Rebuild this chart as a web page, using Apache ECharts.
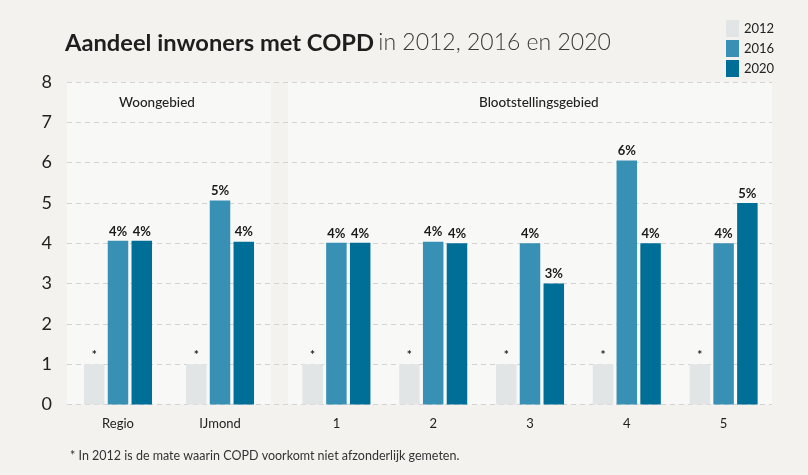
<!DOCTYPE html>
<html>
<head>
<meta charset="utf-8">
<script src="https://cdn.jsdelivr.net/npm/echarts@6/dist/echarts.min.js"></script>
<style>
html,body{margin:0;padding:0;background:#f3f2ef;}
#c{width:808px;height:475px;}
</style>
</head>
<body>
<div id="c"></div>
<script>
// Data
const years = ['2012', '2016', '2020'];
const woonCategories = ['Regio', 'IJmond'];
const blootCategories = ['1', '2', '3', '4', '5'];
const woon2012 = [1, 1];
const woon2016 = [4.06, 5.06];
const woon2020 = [4.06, 4.04];
const bloot2012 = [1, 1, 1, 1, 1];
const bloot2016 = [4.01, 4.04, 4.0, 6.05, 4.0];
const bloot2020 = [4.01, 4.0, 3.0, 4.0, 5.0];
const yTicks = [0, 1, 2, 3, 4, 5, 6, 7, 8];

const colors = ['#e1e5e6', '#3891b4', '#006f98'];
const FONT = 'Lato, "Open Sans", sans-serif';

const chart = echarts.init(document.getElementById('c'));

function labelFor(idx) {
  return {
    show: true,
    position: 'top',
    distance: 3,
    fontFamily: FONT,
    fontWeight: 'bold',
    fontSize: idx === 0 ? 12 : 13,
    color: '#1a1a1a',
    formatter: idx === 0 ? '*' : (p) => Math.round(p.value) + '%'
  };
}

function mkSeries(name, data, axisIdx, idx) {
  return {
    name: name,
    type: 'bar',
    xAxisIndex: axisIdx,
    yAxisIndex: axisIdx,
    data: data,
    barWidth: 20.5,
    barGap: '16%',
    itemStyle: { color: colors[idx] },
    label: labelFor(idx),
    z: 3
  };
}

const catAxisCommon = {
  type: 'category',
  axisLine: { show: false },
  axisTick: { show: false },
  axisLabel: { fontFamily: FONT, fontSize: 13, color: '#222', margin: 13 }
};
const hiddenY = { type: 'value', min: 0, max: 8, interval: 1, show: false };

chart.setOption({
  backgroundColor: '#f3f2ef',
  animation: false,
  textStyle: { fontFamily: FONT },
  title: [
    {
      left: 60, top: 26,
      text: '{b|Aandeel inwoners met COPD} {l|in 2012, 2016 en 2020}',
      textStyle: {
        rich: {
          b: { fontFamily: FONT, fontWeight: 'bold', fontSize: 23.7, color: '#1e1e1e' },
          l: { fontFamily: FONT, fontWeight: 300, fontSize: 23, color: '#3a3a3a' }
        }
      }
    },
    {
      left: 114, top: 91,
      text: 'Woongebied',
      textStyle: { fontFamily: FONT, fontWeight: 500, fontSize: 13.5, color: '#222' }
    },
    {
      left: 474, top: 91,
      text: 'Blootstellingsgebied',
      textStyle: { fontFamily: FONT, fontWeight: 500, fontSize: 13.5, color: '#222' }
    },
    {
      left: 65, top: 444,
      text: '* In 2012 is de mate waarin COPD voorkomt niet afzonderlijk gemeten.',
      textStyle: { fontFamily: FONT, fontWeight: 'normal', fontSize: 12.5, color: '#333' }
    }
  ],
  legend: {
    orient: 'vertical',
    left: 721, top: 15,
    itemWidth: 13, itemHeight: 17, itemGap: 3,
    icon: 'rect',
    data: years,
    textStyle: { fontFamily: FONT, fontSize: 13, color: '#222' }
  },
  grid: [
    { left: 67, width: 204, top: 82, bottom: 70.5, show: true, backgroundColor: '#f8f8f6', borderWidth: 0, containLabel: false },
    { left: 288, width: 484, top: 82, bottom: 70.5, show: true, backgroundColor: '#f8f8f6', borderWidth: 0, containLabel: false },
    { left: 67, right: 36, top: 82, bottom: 70.5, containLabel: false }
  ],
  xAxis: [
    Object.assign({ gridIndex: 0, data: woonCategories }, catAxisCommon),
    Object.assign({ gridIndex: 1, data: blootCategories }, catAxisCommon),
    { gridIndex: 2, type: 'value', show: false, min: 0, max: 1 }
  ],
  yAxis: [
    Object.assign({ gridIndex: 0 }, hiddenY),
    Object.assign({ gridIndex: 1 }, hiddenY),
    {
      gridIndex: 2, type: 'value', min: yTicks[0], max: yTicks[yTicks.length - 1], interval: 1,
      z: 2,
      axisLine: { show: false },
      axisTick: { show: false },
      axisLabel: { fontFamily: FONT, fontSize: 18, color: '#222', margin: 15 },
      splitLine: { show: true, lineStyle: { color: '#d3d3d3', type: [5, 4], width: 1 } }
    }
  ],
  series: [
    mkSeries(years[0], woon2012, 0, 0),
    mkSeries(years[1], woon2016, 0, 1),
    mkSeries(years[2], woon2020, 0, 2),
    mkSeries(years[0], bloot2012, 1, 0),
    mkSeries(years[1], bloot2016, 1, 1),
    mkSeries(years[2], bloot2020, 1, 2)
  ]
});
</script>
</body>
</html>
